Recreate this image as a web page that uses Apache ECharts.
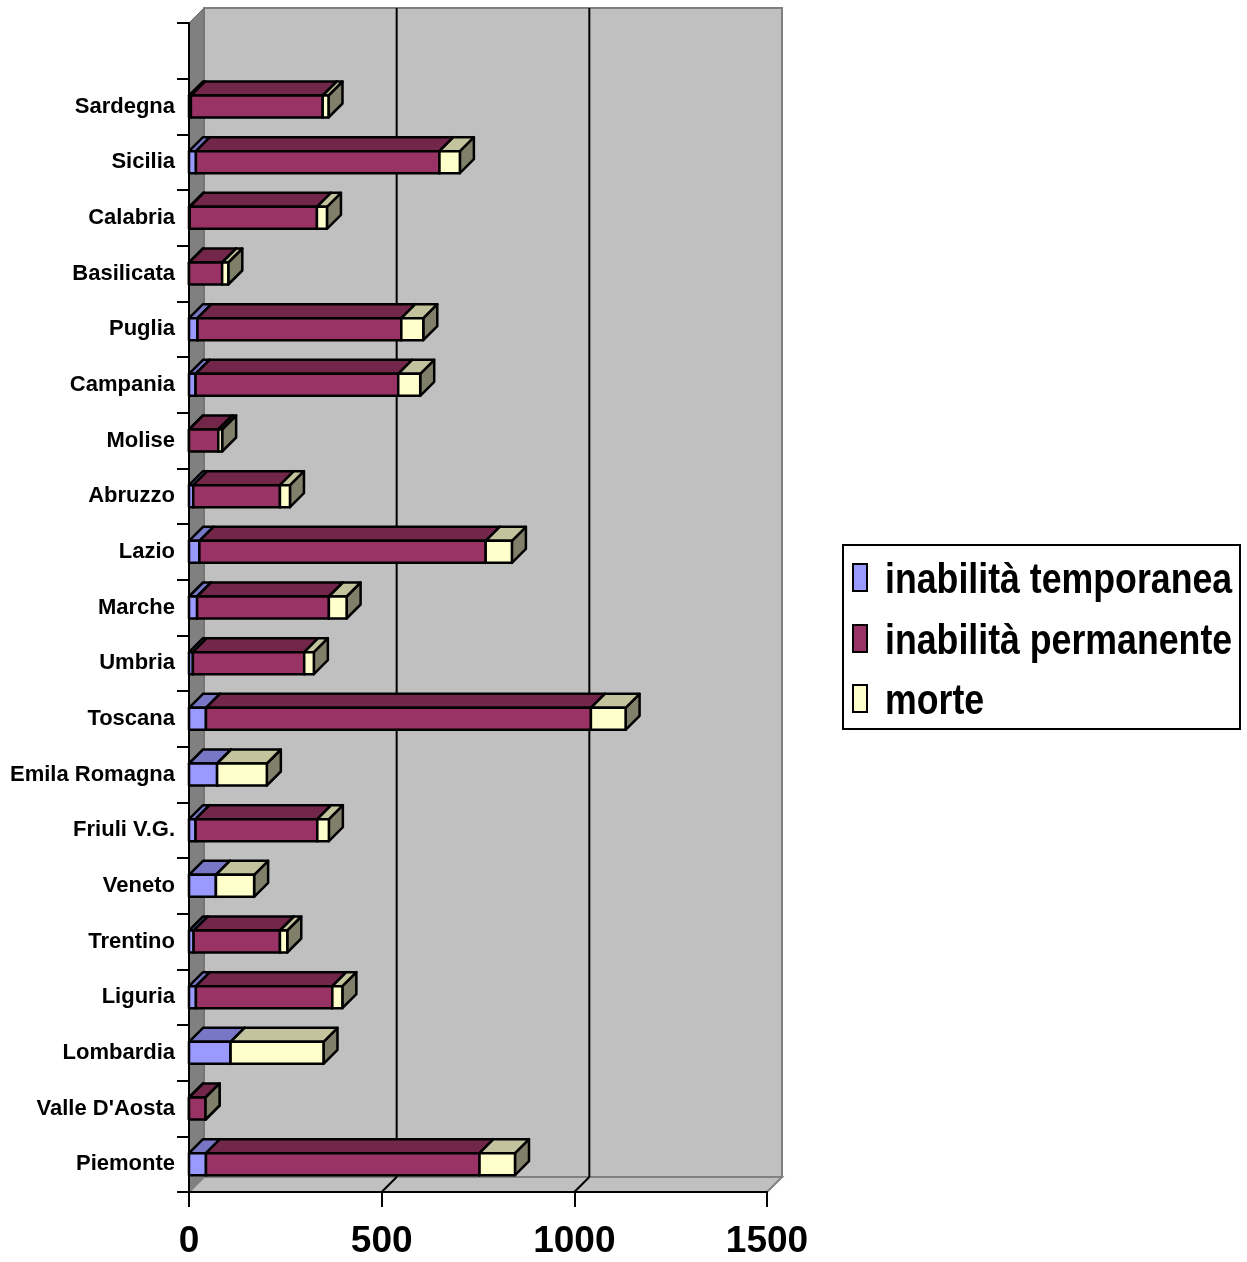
<!DOCTYPE html>
<html>
<head>
<meta charset="utf-8">
<script src="https://cdn.jsdelivr.net/npm/echarts@6/dist/echarts.min.js"></script>
<style>
  html, body { margin: 0; padding: 0; background: #fff; }
  #chart { width: 1247px; height: 1262px; }
</style>
</head>
<body>
<div id="chart"></div>
<script>
// regioni, dal basso verso l'alto (l'ultima riga in alto e' vuota)
var regioni = ['Piemonte', "Valle D'Aosta", 'Lombardia', 'Liguria', 'Trentino', 'Veneto',
  'Friuli V.G.', 'Emila Romagna', 'Toscana', 'Umbria', 'Marche', 'Lazio', 'Abruzzo',
  'Molise', 'Campania', 'Puglia', 'Basilicata', 'Calabria', 'Sicilia', 'Sardegna', ''];

var temporanea = [44, 0, 108, 18, 12, 70, 17, 73, 44, 10, 21, 27, 11, 0, 17, 22, 0, 2, 18, 5, 0];
var permanente = [710, 43, 0, 354, 224, 0, 316, 0, 999, 289, 342, 743, 225, 76, 526, 529, 86, 330, 632, 342, 0];
var morte = [92, 0, 241, 26, 19, 99, 30, 129, 90, 25, 46, 68, 26, 10, 57, 57, 16, 26, 53, 15, 0];

var nomiSerie = ['inabilità temporanea', 'inabilità permanente', 'morte'];
var valoriSerie = [temporanea, permanente, morte];
var xTicks = [0, 500, 1000, 1500];

var colori = [
  { front: '#9999FF', top: '#7777C6', side: '#5A5A99' },
  { front: '#993366', top: '#722649', side: '#4C1A33' },
  { front: '#FFFFCC', top: '#C3C39D', side: '#80806A' }
];

var arial = "'Liberation Sans', Arial, sans-serif";
var DEPTH_WALL = 15;
var DEPTH_BAR = 14;
var BAR_H = 22;

var myChart = echarts.init(document.getElementById('chart'));

function boxRenderer(k) {
  var c = colori[k];
  return function (params, api) {
    var cat = api.value(2);
    var p0 = api.coord([api.value(0), cat]);
    var p1 = api.coord([api.value(1), cat]);
    var x0 = p0[0], x1 = p1[0];
    var yt = p0[1] - BAR_H / 2, yb = p0[1] + BAR_H / 2;
    var d = DEPTH_BAR;
    var st = { stroke: '#000', lineWidth: 2.5, lineJoin: 'round' };
    var children = [];
    children.push({ type: 'polygon', shape: { points: [[x1, yt], [x1 + d, yt - d], [x1 + d, yb - d], [x1, yb]] },
      style: Object.assign({ fill: c.side }, st) });
    if (x1 - x0 > 0.5) {
      children.push({ type: 'polygon', shape: { points: [[x0, yt], [x0 + d, yt - d], [x1 + d, yt - d], [x1, yt]] },
        style: Object.assign({ fill: c.top }, st) });
      children.push({ type: 'rect', shape: { x: x0, y: yt, width: x1 - x0, height: BAR_H },
        style: Object.assign({ fill: c.front }, st) });
    }
    return { type: 'group', children: children };
  };
}

function wallsRenderer(params, api) {
  var r = params.coordSys;
  var d = DEPTH_WALL;
  var L = r.x, R = r.x + r.width, T = r.y, B = r.y + r.height;
  var children = [
    { type: 'rect', shape: { x: L + d, y: T - d, width: r.width, height: r.height },
      style: { fill: '#C0C0C0', stroke: '#808080', lineWidth: 2 } },
    { type: 'polygon', shape: { points: [[L, T], [L + d, T - d], [L + d, B - d], [L, B]] },
      style: { fill: '#808080', stroke: '#6a6a6a', lineWidth: 1 } },
    { type: 'polygon', shape: { points: [[L, B], [L + d, B - d], [R + d, B - d], [R, B]] },
      style: { fill: '#C0C0C0', stroke: '#808080', lineWidth: 2 } }
  ];
  for (var i = 1; i < xTicks.length - 1; i++) {
    var x = api.coord([xTicks[i], 0])[0];
    children.push({ type: 'line', shape: { x1: x + d, y1: T - d, x2: x + d, y2: B - d },
      style: { stroke: '#000', lineWidth: 2 } });
    children.push({ type: 'line', shape: { x1: x, y1: B, x2: x + d, y2: B - d },
      style: { stroke: '#000', lineWidth: 2 } });
  }
  return { type: 'group', children: children };
}

var series = [{
  name: 'pareti',
  type: 'custom',
  silent: true,
  z: 1,
  renderItem: wallsRenderer,
  encode: { x: 0, y: 1 },
  data: [[0, 0]]
}];

for (var k = 0; k < 3; k++) {
  var data = [];
  for (var i = 0; i < regioni.length; i++) {
    if (regioni[i] === '') continue;
    var start = 0;
    for (var j = 0; j < k; j++) start += valoriSerie[j][i];
    data.push([start, start + valoriSerie[k][i], i]);
  }
  series.push({
    name: nomiSerie[k],
    type: 'custom',
    z: 3 + k,
    itemStyle: { color: colori[k].front },
    renderItem: boxRenderer(k),
    encode: { x: [0, 1], y: 2 },
    data: data
  });
}

// legenda disegnata a mano: il testo nel riferimento e' compresso in larghezza
var legendItems = [];
var legendY = [578, 639, 699];
legendItems.push({ type: 'rect', shape: { x: 843, y: 545, width: 397, height: 184 },
  style: { fill: '#fff', stroke: '#000', lineWidth: 2 } });
for (var k = 0; k < 3; k++) {
  legendItems.push({ type: 'rect', shape: { x: 853, y: legendY[k] - 14, width: 14, height: 27 },
    style: { fill: colori[k].front, stroke: '#000', lineWidth: 2 } });
  legendItems.push({ type: 'text', x: 885, y: legendY[k] + 3, scaleX: 0.85,
    style: { text: nomiSerie[k], fontSize: 42, fontWeight: 'bold', fontFamily: arial,
      fill: '#000', verticalAlign: 'middle', align: 'left' } });
}

var option = {
  backgroundColor: '#fff',
  animation: false,
  grid: { left: 189, right: 480, top: 23, bottom: 70, containLabel: false },
  xAxis: {
    type: 'value',
    min: 0, max: 1500, interval: 500,
    z: 10,
    axisLine: { show: true, lineStyle: { color: '#000', width: 2 } },
    axisTick: { show: true, length: 15, lineStyle: { color: '#000', width: 2 } },
    splitLine: { show: false },
    axisLabel: { fontSize: 37, fontWeight: 'bold', color: '#000', fontFamily: arial, margin: 31,
      formatter: function (v) { return String(v); } }
  },
  yAxis: {
    type: 'category',
    data: regioni,
    z: 10,
    axisLine: { show: true, lineStyle: { color: '#000', width: 2 } },
    axisTick: { show: true, length: 12, lineStyle: { color: '#000', width: 2 } },
    axisLabel: { interval: 0, fontSize: 22, fontWeight: 'bold', color: '#000',
      fontFamily: arial, margin: 14 }
  },
  graphic: [{ type: 'group', children: legendItems }],
  series: series
};

myChart.setOption(option);
</script>
</body>
</html>
